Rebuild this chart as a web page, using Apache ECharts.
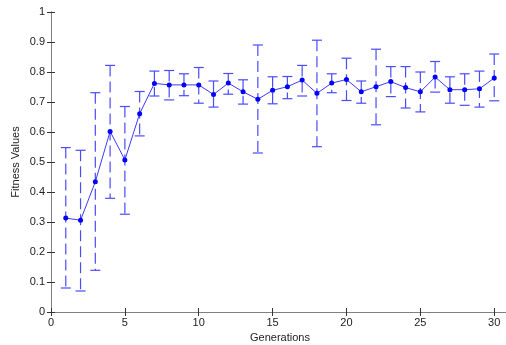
<!DOCTYPE html>
<html>
<head>
<meta charset="utf-8">
<script src="https://cdn.jsdelivr.net/npm/echarts@6/dist/echarts.min.js"></script>
<style>html,body{margin:0;padding:0;background:#fff;}#c{width:506px;height:345px;}</style>
</head>
<body>
<div id="c"></div>
<script>
const generations = [1,2,3,4,5,6,7,8,9,10,11,12,13,14,15,16,17,18,19,20,21,22,23,24,25,26,27,28,29,30];
const meanFitness = [0.313,0.306,0.434,0.602,0.507,0.661,0.762,0.757,0.757,0.757,0.725,0.763,0.734,0.709,0.739,0.751,0.773,0.729,0.763,0.775,0.734,0.751,0.768,0.748,0.734,0.783,0.741,0.741,0.744,0.780];
const upperFitness = [0.548,0.539,0.731,0.822,0.685,0.735,0.803,0.805,0.794,0.815,0.770,0.795,0.774,0.890,0.784,0.785,0.822,0.906,0.794,0.846,0.770,0.876,0.818,0.818,0.800,0.835,0.784,0.794,0.803,0.860];
const lowerFitness = [0.080,0.070,0.139,0.379,0.326,0.587,0.720,0.707,0.721,0.696,0.683,0.726,0.693,0.530,0.694,0.711,0.720,0.551,0.731,0.705,0.696,0.624,0.718,0.680,0.667,0.733,0.696,0.689,0.683,0.704];
const xTicks = [0,5,10,15,20,25,30];
const yTicks = [0,0.1,0.2,0.3,0.4,0.5,0.6,0.7,0.8,0.9,1];

const chart = echarts.init(document.getElementById('c'), null, {renderer:'canvas'});
const lineData = generations.map((g,i)=>[g, meanFitness[i]]);
const errData = generations.map((g,i)=>[g, lowerFitness[i], upperFitness[i]]);
const font = '"Liberation Sans", Arial, sans-serif';
const axisCol = '#808080';
const labelStyle = {color:'#222', fontFamily:font, fontSize:11};
const tick = {show:true, inside:true, length:4, lineStyle:{color:'#333', width:1}};

chart.setOption({
  animation:false,
  backgroundColor:'#fff',
  grid:{left:51, top:12, bottom:33, right:-3, show:false, containLabel:false, outerBoundsMode:'none'},
  xAxis:[{
    type:'value', min:0, max:31, interval:5, position:'bottom',
    name:'Generations', nameLocation:'middle', nameGap:20, nameMoveOverlap:false,
    nameTextStyle:labelStyle,
    axisLine:{show:true, lineStyle:{color:axisCol, width:1}},
    axisTick:tick,
    axisLabel:{...labelStyle, margin:5, showMaxLabel:false, formatter:v=> (xTicks.indexOf(v)>=0 ? String(v) : '')},
    splitLine:{show:false}
  },{
    type:'value', min:0, max:31, interval:5, position:'top',
    axisLine:{show:true, lineStyle:{color:axisCol, width:1}},
    axisTick:tick,
    axisLabel:{show:false}, splitLine:{show:false}
  }],
  yAxis:[{
    type:'value', min:0, max:1, interval:0.1, position:'left',
    name:'Fitness Values', nameLocation:'middle', nameGap:30, nameRotate:90, nameMoveOverlap:false,
    nameTextStyle:labelStyle,
    axisLine:{show:true, lineStyle:{color:axisCol, width:1}},
    axisTick:tick,
    axisLabel:{...labelStyle, margin:6, formatter:v=>{const r=Math.round(v*10)/10; return yTicks.indexOf(r)>=0? String(r):'';}},
    splitLine:{show:false}
  },{
    type:'value', min:0, max:1, interval:0.1, position:'right',
    axisLine:{show:true, lineStyle:{color:axisCol, width:1}},
    axisTick:tick,
    axisLabel:{show:false}, splitLine:{show:false}
  }],
  series:[{
    type:'custom',
    data:errData,
    encode:{x:0, y:[1,2]},
    z:2,
    renderItem:function(params, api){
      const x = api.value(0);
      const lo = api.coord([x, api.value(1)]);
      const hi = api.coord([x, api.value(2)]);
      const hw = 5;
      const style = {stroke:'#4b4bff', lineWidth:1.2, fill:null};
      return {type:'group', children:[
        {type:'line', shape:{x1:hi[0], y1:hi[1], x2:lo[0], y2:lo[1]}, style:{...style, lineDash:[11,5]}},
        {type:'line', shape:{x1:hi[0]-hw, y1:hi[1], x2:hi[0]+hw, y2:hi[1]}, style:style},
        {type:'line', shape:{x1:lo[0]-hw, y1:lo[1], x2:lo[0]+hw, y2:lo[1]}, style:style}
      ]};
    }
  },{
    type:'line',
    data:lineData,
    z:3,
    symbol:'circle', symbolSize:5,
    itemStyle:{color:'#0000ff'},
    lineStyle:{color:'#3b3bff', width:1}
  }]
});
</script>
</body>
</html>
